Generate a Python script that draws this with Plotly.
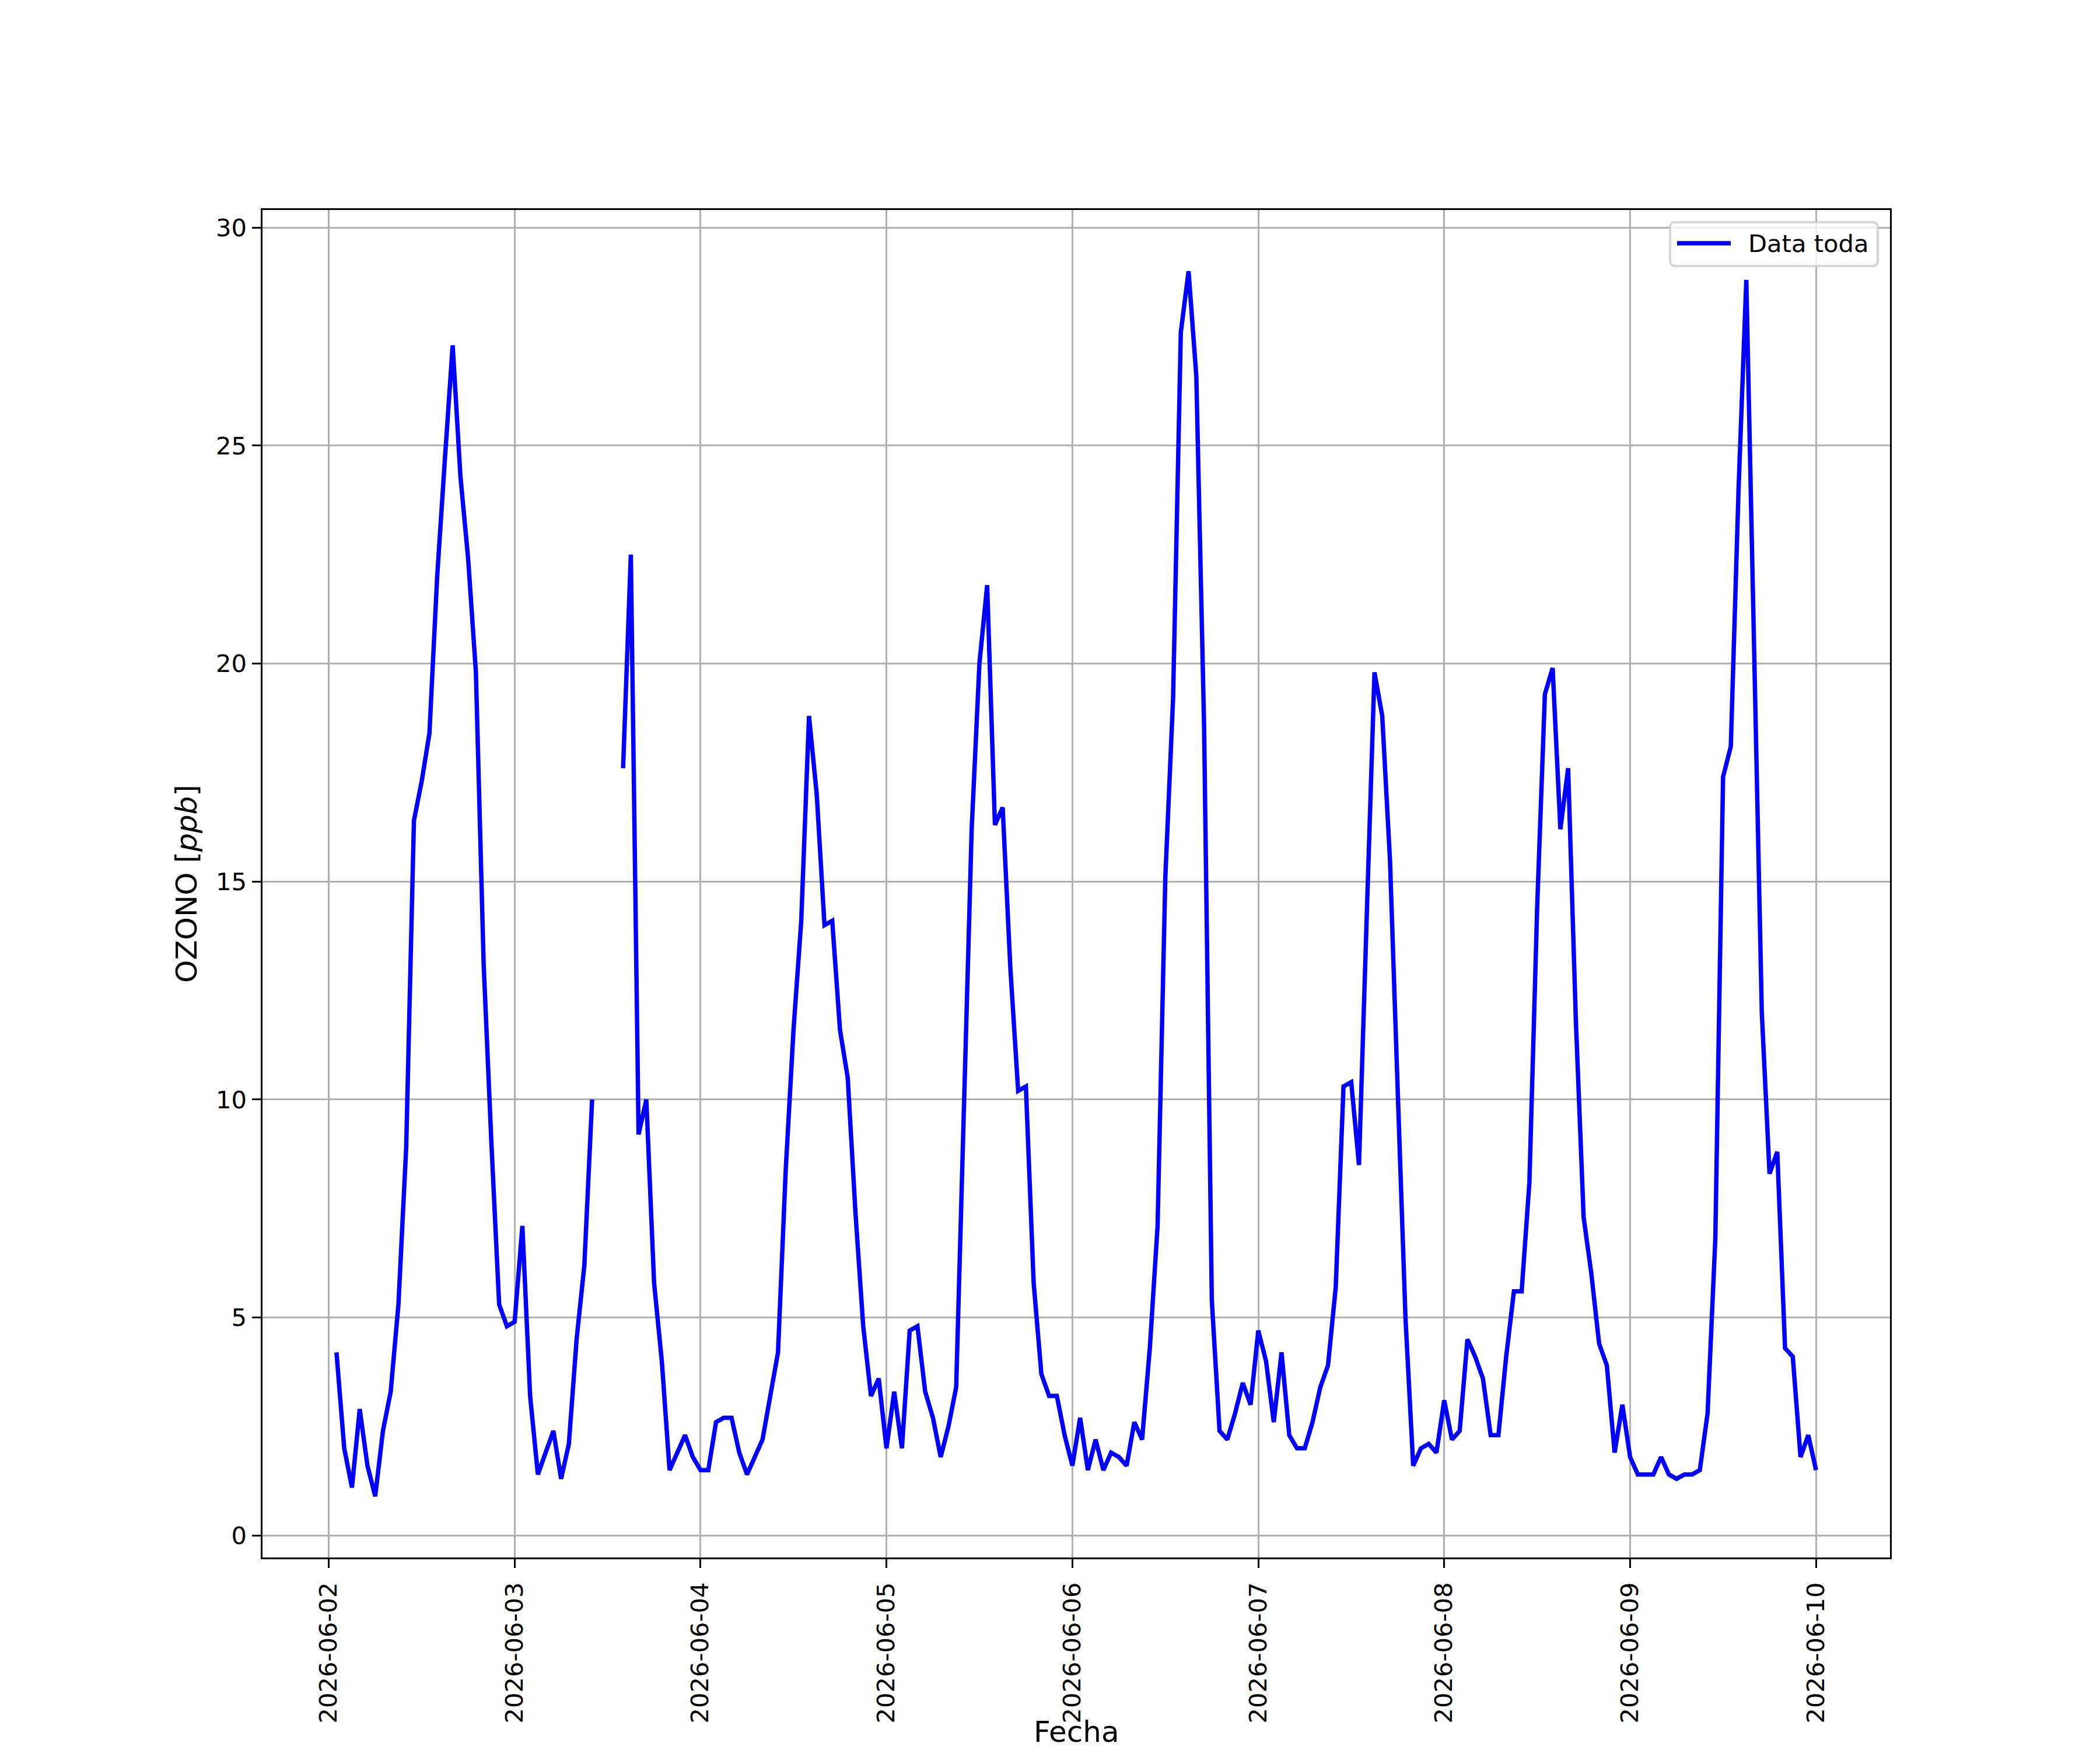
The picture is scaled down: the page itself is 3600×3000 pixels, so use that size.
import pandas as pd
import plotly.graph_objects as go

# Hourly ozone readings, 2026-06-02 01:00 to 2026-06-10 00:00 (one list per day)
start = "2026-06-02 01:00"
day1 = [4.2, 2.0, 1.1, 2.9, 1.6, 0.9, 2.4, 3.3, 5.3, 8.9, 16.4, 17.3,
        18.4, 22.0, 24.7, 27.3, 24.3, 22.4, 19.8, 13.1, 9.0, 5.3, 4.8, 4.9]
day2 = [7.1, 3.2, 1.4, 1.9, 2.4, 1.3, 2.1, 4.5, 6.2, 10.0, None, None,
        None, 17.6, 22.5, 9.2, 10.0, 5.8, 4.0, 1.5, 1.9, 2.3, 1.8, 1.5]
day3 = [1.5, 2.6, 2.7, 2.7, 1.9, 1.4, 1.8, 2.2, 3.2, 4.2, 8.4, 11.6,
        14.1, 18.8, 17.0, 14.0, 14.1, 11.6, 10.5, 7.4, 4.8, 3.2, 3.6, 2.0]
day4 = [3.3, 2.0, 4.7, 4.8, 3.3, 2.7, 1.8, 2.5, 3.4, 9.6, 16.2, 20.0,
        21.8, 16.3, 16.7, 13.0, 10.2, 10.3, 5.8, 3.7, 3.2, 3.2, 2.3, 1.6]
day5 = [2.7, 1.5, 2.2, 1.5, 1.9, 1.8, 1.6, 2.6, 2.2, 4.3, 7.1, 15.1,
        19.2, 27.6, 29.0, 26.6, 18.6, 5.4, 2.4, 2.2, 2.8, 3.5, 3.0, 4.7]
day6 = [4.0, 2.6, 4.2, 2.3, 2.0, 2.0, 2.6, 3.4, 3.9, 5.7, 10.3, 10.4,
        8.5, 14.2, 19.8, 18.8, 15.5, 10.2, 5.0, 1.6, 2.0, 2.1, 1.9, 3.1]
day7 = [2.2, 2.4, 4.5, 4.1, 3.6, 2.3, 2.3, 4.1, 5.6, 5.6, 8.1, 14.4,
        19.3, 19.9, 16.2, 17.6, 11.8, 7.3, 6.0, 4.4, 3.9, 1.9, 3.0, 1.8]
day8 = [1.4, 1.4, 1.4, 1.8, 1.4, 1.3, 1.4, 1.4, 1.5, 2.8, 6.8, 17.4,
        18.1, 24.0, 28.8, 20.4, 12.0, 8.3, 8.8, 4.3, 4.1, 1.8, 2.3, 1.5]

ozono = day1 + day2 + day3 + day4 + day5 + day6 + day7 + day8
fechas = pd.date_range(start, periods=len(ozono), freq="h")

# matplotlib-like page geometry (12x10 in @ 300 dpi); the html body has an
# 8px margin, so the figure is made 8px smaller and everything shifted
OFF = 8
W, H = 3600 - OFF, 3000 - OFF
L, R, T, B = 450, 3240, 360, 2670   # axes box in page pixels
PT = 300 / 72


def px(x):
    return (x - L) / (R - L)


def py(y):
    return (B - y) / (B - T)


# 5% autoscale margins like matplotlib
span = fechas[-1] - fechas[0]
xr = [fechas[0] - 0.05 * span, fechas[-1] + 0.05 * span]
vals = [v for v in ozono if v is not None]
vspan = max(vals) - min(vals)
yr = [min(vals) - 0.05 * vspan, max(vals) + 0.05 * vspan]

fig = go.Figure()
fig.add_trace(go.Scatter(x=fechas, y=ozono, mode="lines", name="Data toda",
                         line=dict(color="blue", width=7.5),
                         connectgaps=False, showlegend=False))

axis_common = dict(showline=True, mirror=True, linecolor="black",
                   linewidth=0.8 * PT, ticks="outside", ticklen=3.5 * PT,
                   tickwidth=0.8 * PT, tickcolor="black", showgrid=True,
                   gridcolor="#b0b0b0", gridwidth=0.8 * PT, zeroline=False,
                   tickfont=dict(family="DejaVu Sans", size=10 * PT,
                                 color="black"))

fig.update_xaxes(range=xr, type="date", tick0="2026-06-02", dtick=86400000,
                 tickformat="%Y-%m-%d", tickangle=-90, ticklabelstandoff=8,
                 **axis_common)
fig.update_yaxes(range=yr, dtick=5, tick0=0, ticklabelstandoff=1,
                 **axis_common)

# legend box (upper right, rounded frame)
bx0, bx1, by0, by1, rr = 2863, 3219, 381, 456, 9
path = (f"M{px(bx0 + rr)},{py(by0)} L{px(bx1 - rr)},{py(by0)} "
        f"Q{px(bx1)},{py(by0)} {px(bx1)},{py(by0 + rr)} "
        f"L{px(bx1)},{py(by1 - rr)} Q{px(bx1)},{py(by1)} {px(bx1 - rr)},{py(by1)} "
        f"L{px(bx0 + rr)},{py(by1)} Q{px(bx0)},{py(by1)} {px(bx0)},{py(by1 - rr)} "
        f"L{px(bx0)},{py(by0 + rr)} Q{px(bx0)},{py(by0)} {px(bx0 + rr)},{py(by0)} Z")
fig.add_shape(type="path", path=path, xref="paper", yref="paper",
              fillcolor="rgba(255,255,255,0.8)",
              line=dict(color="rgba(204,204,204,0.8)", width=1.0 * PT),
              layer="above")
fig.add_shape(type="line", xref="paper", yref="paper",
              x0=px(2875), x1=px(2967), y0=py(417), y1=py(417),
              line=dict(color="blue", width=7.5), layer="above")
fig.add_annotation(text="Data toda", xref="paper", yref="paper",
                   x=px(2995), y=py(418), xanchor="left", yanchor="middle",
                   showarrow=False,
                   font=dict(family="DejaVu Sans", size=10 * PT, color="black"))

# axis labels
fig.add_annotation(text="Fecha", xref="paper", yref="paper", x=0.5,
                   y=py(2999), xanchor="center", yanchor="bottom",
                   showarrow=False, borderpad=0,
                   font=dict(family="DejaVu Sans", size=12 * PT, color="black"))
fig.add_annotation(text="OZONO [<i>ppb</i>]", xref="paper", yref="paper",
                   x=px(320), y=0.5, xanchor="center", yanchor="middle",
                   textangle=-90, showarrow=False,
                   font=dict(family="DejaVu Sans", size=12 * PT, color="black"))

fig.update_layout(width=W, height=H, autosize=False,
                  margin=dict(l=L - OFF, r=W - (R - OFF), t=T - OFF,
                              b=H - (B - OFF), pad=0),
                  plot_bgcolor="white", paper_bgcolor="white")

fig.write_html("out.html")
